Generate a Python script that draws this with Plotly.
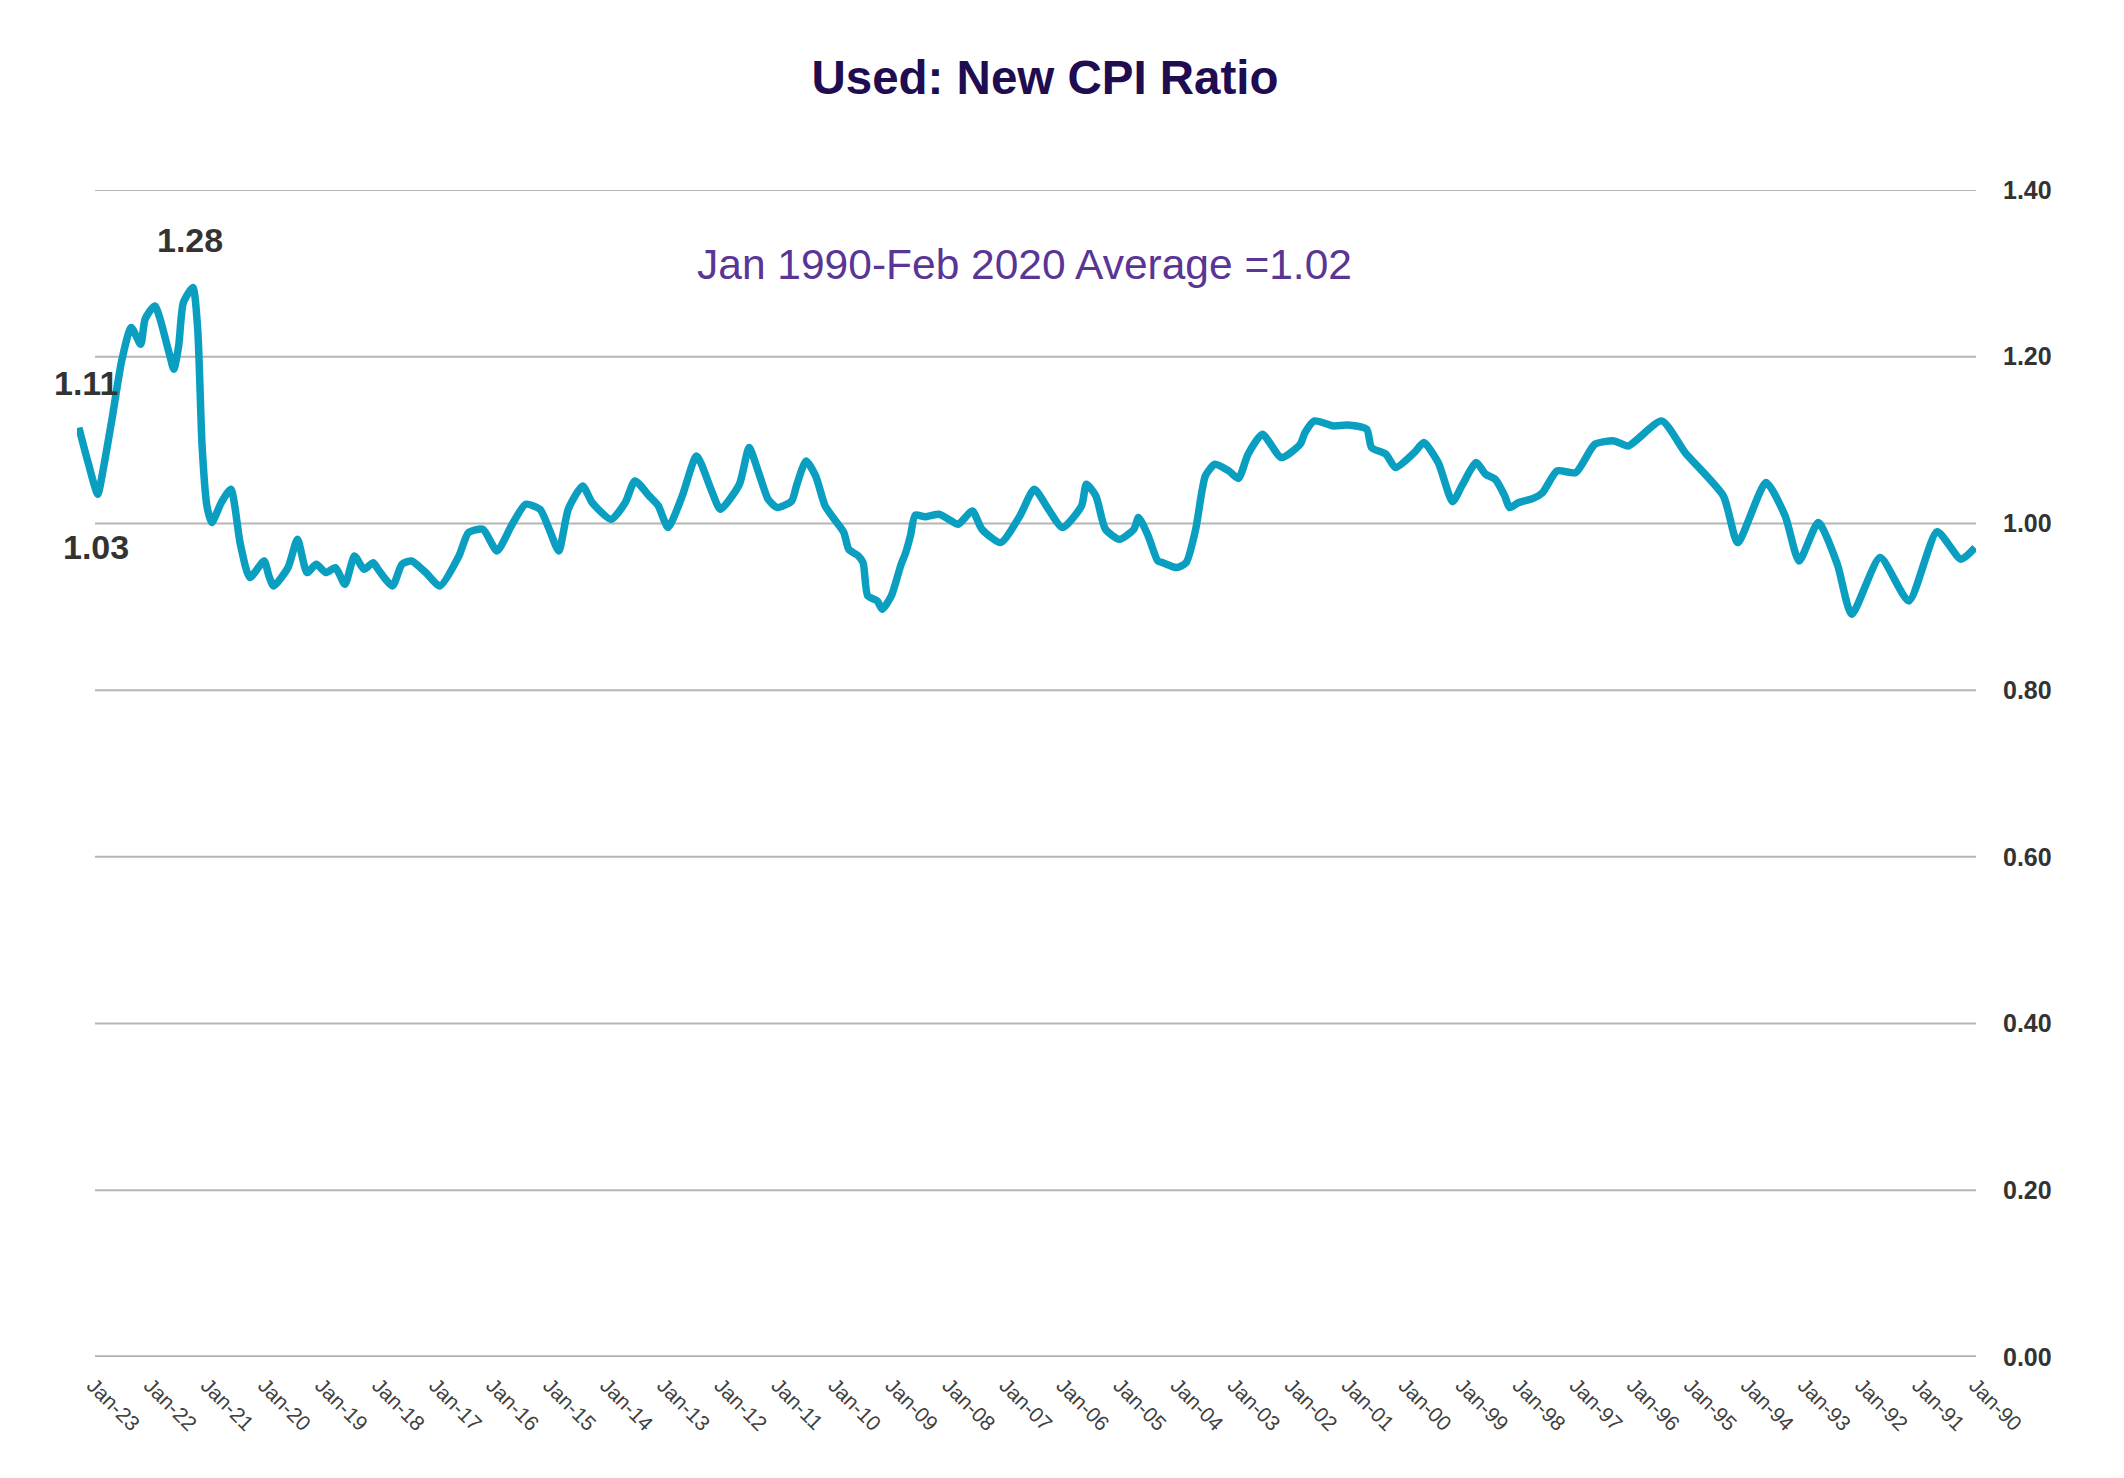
import plotly.graph_objects as go

months = [
    "1990-01", "1990-04", "1990-09", "1991-03", "1991-09", "1992-03", "1992-06", "1992-10",
    "1993-02", "1993-05", "1993-09", "1994-03", "1994-06", "1995-02", "1995-07", "1996-02",
    "1996-05", "1996-09", "1997-01", "1997-05", "1997-08", "1997-10", "1998-01", "1998-03",
    "1998-04", "1998-06", "1998-08", "1998-10", "1999-01", "1999-03", "1999-06", "1999-09",
    "1999-11", "2000-03", "2000-05", "2000-08", "2000-09", "2001-01", "2001-04", "2001-08",
    "2001-10", "2001-11", "2002-03", "2002-07", "2002-10", "2002-12", "2003-02", "2003-05",
    "2003-07", "2003-09", "2003-11", "2004-01", "2004-04", "2004-05", "2004-07", "2004-09",
    "2004-10", "2005-01", "2005-04", "2005-06", "2005-08", "2005-09", "2006-01", "2006-04",
    "2006-07", "2006-10", "2007-02", "2007-06", "2007-08", "2007-11", "2008-01", "2008-03",
    "2008-06", "2008-08", "2008-09", "2008-10", "2008-11", "2009-01", "2009-03", "2009-04",
    "2009-06", "2009-07", "2009-08", "2009-10", "2009-11", "2010-01", "2010-03", "2010-05",
    "2010-07", "2010-09", "2010-10", "2011-01", "2011-03", "2011-05", "2011-07", "2011-09",
    "2012-01", "2012-03", "2012-06", "2012-09", "2012-12", "2013-02", "2013-04", "2013-07",
    "2013-09", "2013-12", "2014-04", "2014-06", "2014-09", "2014-11", "2015-01", "2015-03",
    "2015-06", "2015-09", "2015-12", "2016-03", "2016-06", "2016-08", "2016-12", "2017-03",
    "2017-06", "2017-08", "2017-10", "2018-01", "2018-02", "2018-04", "2018-06", "2018-08",
    "2018-10", "2018-12", "2019-02", "2019-04", "2019-06", "2019-08", "2019-11", "2019-12",
    "2020-01", "2020-04", "2020-06", "2020-08", "2020-10", "2020-12", "2021-01", "2021-02",
    "2021-03", "2021-04", "2021-06", "2021-07", "2021-08", "2021-09", "2021-12", "2022-02",
    "2022-03", "2022-05", "2022-07", "2022-09", "2022-11", "2022-12", "2023-02", "2023-04",
]

ratio = [
    0.971, 0.957, 0.990, 0.907, 0.959, 0.891, 0.951, 1.001,
    0.955, 1.009, 1.049, 0.977, 1.033, 1.085, 1.123, 1.093,
    1.099, 1.095, 1.061, 1.063, 1.037, 1.030, 1.025, 1.019,
    1.033, 1.053, 1.059, 1.073, 1.045, 1.026, 1.073, 1.097,
    1.085, 1.067, 1.083, 1.091, 1.113, 1.118, 1.117, 1.123,
    1.109, 1.095, 1.079, 1.107, 1.083, 1.054, 1.063, 1.071,
    1.057, 0.993, 0.953, 0.947, 0.953, 0.955, 0.985, 1.007,
    0.993, 0.981, 0.993, 1.033, 1.047, 1.021, 0.995, 1.017,
    1.041, 1.009, 0.977, 0.993, 1.015, 0.999, 1.005, 1.011,
    1.008, 1.010, 0.985, 0.965, 0.950, 0.913, 0.897, 0.907,
    0.913, 0.953, 0.961, 0.969, 0.989, 1.005, 1.021, 1.057,
    1.075, 1.045, 1.027, 1.019, 1.029, 1.061, 1.091, 1.047,
    1.017, 1.041, 1.081, 1.033, 0.995, 1.021, 1.033, 1.051,
    1.025, 1.005, 1.025, 1.045, 1.017, 0.967, 0.993, 1.017,
    1.023, 0.997, 0.967, 0.993, 0.989, 0.961, 0.925, 0.941,
    0.955, 0.951, 0.925, 0.945, 0.953, 0.945, 0.961, 0.927,
    0.947, 0.941, 0.951, 0.941, 0.981, 0.947, 0.925, 0.937,
    0.955, 0.935, 0.975, 1.041, 1.025, 1.001, 1.021, 1.093,
    1.233, 1.283, 1.265, 1.213, 1.185, 1.205, 1.261, 1.245,
    1.215, 1.235, 1.195, 1.125, 1.060, 1.035, 1.073, 1.115,
]

y_ticks = [0.0, 0.2, 0.4, 0.6, 0.8, 1.0, 1.2, 1.4]
y_tick_labels = ["0.00", "0.20", "0.40", "0.60", "0.80", "1.00", "1.20", "1.40"]

title_text = "Used: New CPI Ratio"
subtitle_text = "Jan 1990-Feb 2020 Average =1.02"
callouts = [
    ("2021-04-19", 1.340, "1.28"),
    ("2023-02-12", 1.169, "1.11"),
    ("2022-12-10", 0.972, "1.03"),
]

FONT = "Liberation Sans, Arial, sans-serif"
GRID_START = 0.0095  # gridlines begin slightly right of the plot's left edge

fig = go.Figure()

# horizontal gridlines (drawn as shapes so they start a little inside the plot area)
for yv in y_ticks:
    fig.add_shape(type="line", xref="paper", yref="y", x0=GRID_START, x1=1, y0=yv, y1=yv,
                  line=dict(color="#b0b0b0" if yv == 0 else "#b5b5b5",
                            width=3.5 if yv == 0 else 2),
                  layer="below")

fig.add_trace(go.Scatter(
    x=months, y=ratio, mode="lines",
    line=dict(color="#0a9fc1", width=7.5, shape="spline", smoothing=0.6),
    hoverinfo="x+y", showlegend=False,
))

for xd, yv, txt in callouts:
    fig.add_annotation(x=xd, y=yv, xref="x", yref="y", text=txt, showarrow=False,
                       font=dict(family=FONT, size=34, color="#333333", weight="bold"),
                       xanchor="center", yanchor="middle")

fig.add_annotation(x=0.499, y=1.311, xref="paper", yref="y", text=subtitle_text,
                   showarrow=False, xanchor="center", yanchor="middle",
                   font=dict(family=FONT, size=42.5, color="#5a3595"))

fig.update_layout(
    width=2116, height=1470,
    paper_bgcolor="white", plot_bgcolor="white",
    margin=dict(l=69, r=148, t=182, b=121),
    title=dict(text=title_text, x=(1045 - 8) / 2116, xanchor="center",
               y=1 - (77 - 8) / 1470, yanchor="middle", yref="container",
               font=dict(family=FONT, size=47.5, color="#200c50", weight="bold")),
    xaxis=dict(
        type="date", range=["2023-04-13", "1989-12-26"],
        tick0="1990-01-01", dtick="M12", tickformat="%b-%y",
        tickangle=45, showgrid=False, zeroline=False,
        showline=False, ticks="", ticklabelstandoff=11,
        tickfont=dict(family=FONT, size=21, color="#404040"),
    ),
    yaxis=dict(
        side="right", range=[0, 1.4], tickvals=y_ticks, ticktext=y_tick_labels,
        showgrid=False, zeroline=False,
        showline=False, ticks="", ticklabelstandoff=26,
        tickfont=dict(family=FONT, size=25, color="#333333", weight="bold"),
    ),
)

fig.write_html("out.html")
